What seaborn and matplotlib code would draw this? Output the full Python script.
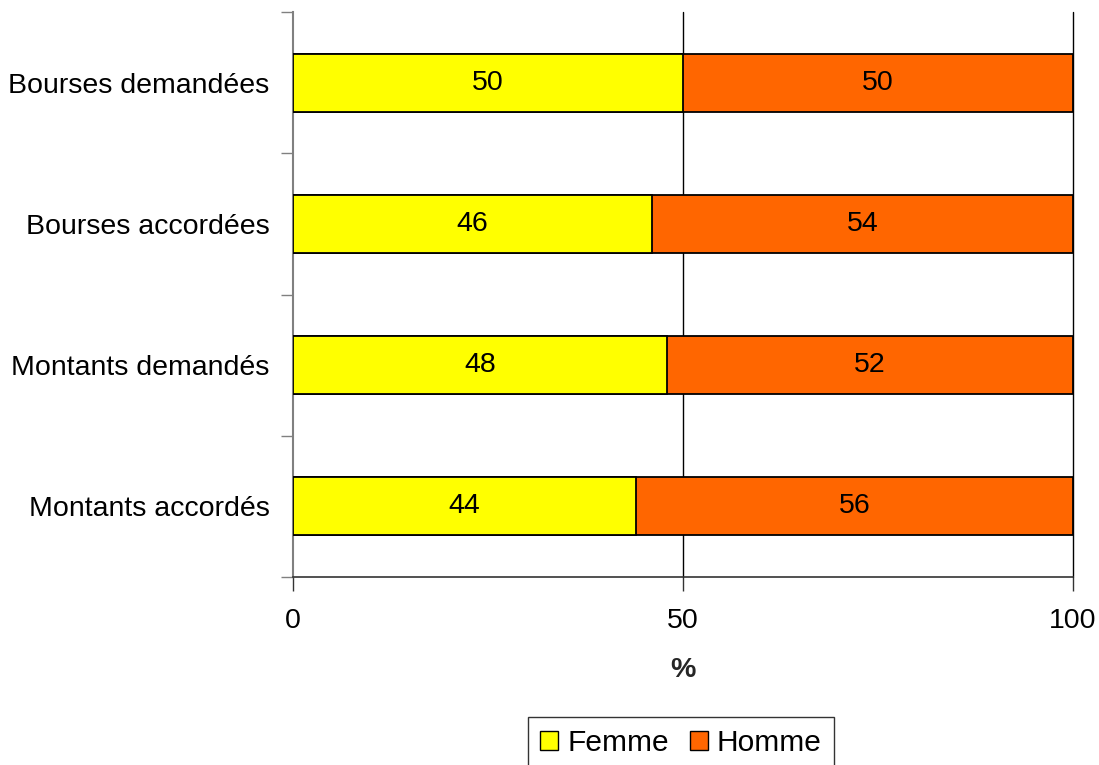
import seaborn as sns
import pandas as pd
import matplotlib.pyplot as plt
from matplotlib.patches import Patch

# données
categories = ["Bourses demandées", "Bourses accordées", "Montants demandés", "Montants accordés"]
femme = [50, 46, 48, 44]
homme = [50, 54, 52, 56]

df = pd.DataFrame({"cat": categories, "Femme": femme, "Homme": homme})
df["total"] = df["Femme"] + df["Homme"]

sns.set_style("white")
plt.rcParams["font.family"] = ["Liberation Sans", "DejaVu Sans"]
plt.rcParams["text.color"] = "black"
plt.rcParams["xtick.color"] = "black"
plt.rcParams["ytick.color"] = "black"

fig = plt.figure(figsize=(10.99, 7.65), dpi=100)
ax = fig.add_axes([293 / 1099, 1 - 577 / 765, 780 / 1099, 565 / 765])

jaune = "#FFFF00"
orange = "#FF6600"
fs = 20.5

# barres empilées : total en orange, puis femme en jaune par-dessus
sns.barplot(data=df, x="total", y="cat", color=orange, width=0.41, orient="h",
            edgecolor="black", linewidth=1.3, saturation=1, ax=ax, zorder=3)
sns.barplot(data=df, x="Femme", y="cat", color=jaune, width=0.41, orient="h",
            edgecolor="black", linewidth=1.3, saturation=1, ax=ax, zorder=3)

for i, row in df.iterrows():
    ax.text(row["Femme"] / 2, i, str(row["Femme"]), ha="center", va="center", fontsize=fs, zorder=4)
    ax.text(row["Femme"] + row["Homme"] / 2, i, str(row["Homme"]), ha="center", va="center",
            fontsize=fs, zorder=4)

ax.set_xlim(0, 100)
ax.set_ylim(3.5, -0.5)
ax.set_xticks([0, 50, 100])
ax.set_xticklabels(["0", "50", "100"], fontsize=fs)
ax.tick_params(axis="x", bottom=True, direction="out", length=10, width=1, color="#333333", pad=12)
for x in [50, 100]:
    ax.axvline(x, color="black", linewidth=1, zorder=1, clip_on=False)

# graduations de l'axe y entre les catégories
ax.set_yticks([-0.5, 0.5, 1.5, 2.5, 3.5], minor=False)
ax.set_yticklabels([])
ax.set_yticks(range(len(categories)), minor=True)
ax.set_yticklabels(categories, minor=True, fontsize=fs)
ax.tick_params(axis="y", which="major", left=True, direction="out", length=9, width=1, color="#808080")
ax.tick_params(axis="y", which="minor", left=True, length=0, pad=17)

ax.spines["top"].set_visible(False)
ax.spines["right"].set_visible(False)
ax.spines["left"].set_color("#808080")
ax.spines["left"].set_linewidth(1.5)
ax.spines["bottom"].set_color("#333333")
ax.spines["bottom"].set_linewidth(1.2)

ax.set_xlabel("%", fontsize=fs, fontweight="bold", labelpad=17)
ax.set_ylabel("")

handles = [Patch(facecolor=jaune, edgecolor="black", label="Femme"),
           Patch(facecolor=orange, edgecolor="black", label="Homme")]
leg = fig.legend(handles=handles, loc="lower center", bbox_to_anchor=(681 / 1099, -0.025), ncol=2,
                 fontsize=21.5, frameon=True, fancybox=False, edgecolor="black",
                 handlelength=0.6, handleheight=0.6, handletextpad=0.3, columnspacing=0.7,
                 borderpad=0.4)
leg.get_frame().set_linewidth(1)

fig.savefig("out.png", dpi=100)
